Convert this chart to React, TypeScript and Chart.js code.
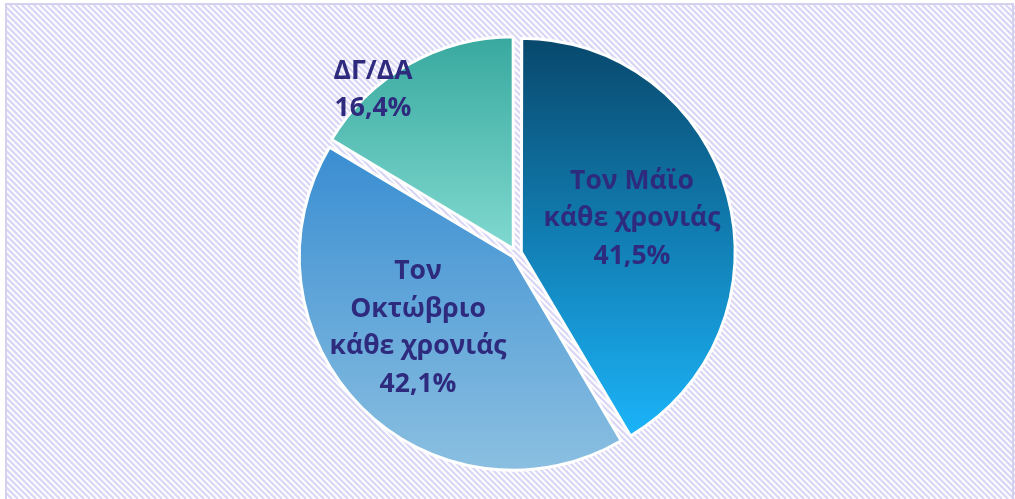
import React, { useEffect, useRef } from "react";
import { Chart, registerables } from "chart.js";

Chart.register(...registerables);

const categories: string[][] = [
  ["Τον Μάϊο", "κάθε χρονιάς"],
  ["Τον", "Οκτώβριο", "κάθε χρονιάς"],
  ["ΔΓ/ΔΑ"],
];
const values: number[] = [41.5, 42.1, 16.4];
const valueLabels: string[] = ["41,5%", "42,1%", "16,4%"];

// gradient stops: [startFrac, endFrac, startColor, endColor] relative to chart area height
const gradients: [number, number, string, string][] = [
  [0.02, 0.905, "#08486c", "#1bb3f8"],
  [0.26, 0.99, "#3a8ed2", "#8cc0e1"],
  [0.02, 0.5, "#37a89e", "#80d9d0"],
];
// Chart.js 4 translates an arc by offset/4
const sliceOffsets: number[] = [22, 18, 22];
// label placement: [radius factor, angle shift in degrees]
const labelPlacement: [number, number][] = [
  [0.573, -1.3],
  [0.583, 7.55],
  [1.028, -11.67],
];

const backgroundPlugin = {
  id: "hatchBg",
  beforeDraw(chart: any) {
    const { ctx, width, height } = chart;
    ctx.save();
    ctx.fillStyle = "#ffffff";
    ctx.fillRect(0, 0, width, height);
    ctx.beginPath();
    ctx.rect(7, 5, width - 7, height - 5);
    ctx.clip();
    ctx.strokeStyle = "#dad7f6";
    ctx.lineWidth = 2.3;
    ctx.beginPath();
    for (let k = -height; k < width + height; k += 6) {
      ctx.moveTo(k, 0);
      ctx.lineTo(k + height, height);
    }
    ctx.stroke();
    ctx.restore();
    ctx.save();
    ctx.strokeStyle = "#d3d1ee";
    ctx.lineWidth = 2;
    ctx.strokeRect(6, 4, width - 8, height + 10);
    ctx.restore();
  },
};

const labelPlugin = {
  id: "sliceLabels",
  afterDatasetsDraw(chart: any) {
    const { ctx } = chart;
    const meta = chart.getDatasetMeta(0);
    ctx.save();
    ctx.fillStyle = "#2e2a7e";
    ctx.font = "bold 26.5px 'Open Sans'";
    ctx.textAlign = "center";
    ctx.textBaseline = "middle";
    meta.data.forEach((arc: any, i: number) => {
      const { x, y, startAngle, endAngle, outerRadius } = arc.getProps(
        ["x", "y", "startAngle", "endAngle", "outerRadius"],
        true
      );
      const [f, shift] = labelPlacement[i];
      const a = (startAngle + endAngle) / 2 + (shift * Math.PI) / 180;
      const cx = x + Math.cos(a) * outerRadius * f;
      const cy = y + Math.sin(a) * outerRadius * f;
      const lines = [...categories[i], valueLabels[i]];
      const lh = 37.5;
      const top = cy - ((lines.length - 1) * lh) / 2;
      lines.forEach((t, j) => ctx.fillText(t, cx, top + j * lh));
    });
    ctx.restore();
  },
};

export default function App() {
  const ref = useRef<HTMLCanvasElement | null>(null);
  useEffect(() => {
    document.body.style.margin = "0";
    const canvas = ref.current!;
    const chart = new Chart(canvas, {
      type: "pie",
      data: {
        labels: categories.map((c) => c.join(" ")),
        datasets: [
          {
            data: values,
            backgroundColor: (c: any) => {
              const ch = c.chart;
              const area = ch.chartArea;
              const g = gradients[c.dataIndex] || gradients[0];
              if (!area) return g[2];
              const y0 = area.top + g[0] * (area.bottom - area.top);
              const y1 = area.top + g[1] * (area.bottom - area.top);
              const grad = ch.ctx.createLinearGradient(0, y0, 0, y1);
              grad.addColorStop(0, g[2]);
              grad.addColorStop(1, g[3]);
              return grad;
            },
            borderColor: "#ffffff",
            borderWidth: 3,
            offset: sliceOffsets,
          },
        ],
      },
      options: {
        responsive: false,
        animation: false,
        layout: { padding: { top: 29.8, bottom: 21.8, left: 17, right: 0 } },
        plugins: {
          legend: { display: false },
          tooltip: { enabled: false },
        },
      },
      plugins: [backgroundPlugin, labelPlugin],
    });
    return () => chart.destroy();
  }, []);
  return (
    <div style={{ width: 1015, height: 499 }}>
      <canvas ref={ref} width={1015} height={499} style={{ display: "block" }} />
    </div>
  );
}
